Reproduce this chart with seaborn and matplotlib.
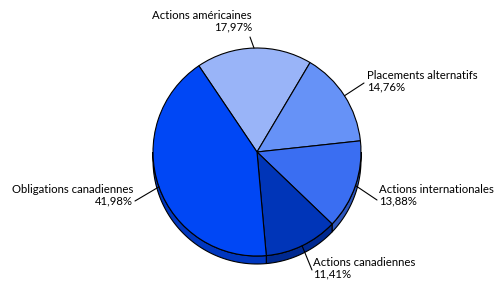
import numpy as np
import matplotlib
matplotlib.use('Agg')
import matplotlib.pyplot as plt
import seaborn as sns

# data
categories = ['Actions américaines', 'Placements alternatifs', 'Actions internationales',
              'Actions canadiennes', 'Obligations canadiennes']
shares = [17.97, 14.76, 13.88, 11.41, 41.98]
colors = ['#99b4f8', '#6692f7', '#3a6ef2', '#0035b8', '#0047f5']

# layout (pixels, origin top-left)
W, H = 494, 281
cx, cy, r, depth = 257, 129, 104, 8
label_pos = [(252, 21), (367, 81), (379, 195), (313, 268), (133, 195)]
label_ha = ['right', 'left', 'left', 'left', 'right']
leader_end = [(250, 37), (364, 83), (377, 200), (312, 270), (135, 201)]

sns.set_theme(style='white')
plt.rcParams['font.family'] = ['Lato', 'DejaVu Sans']

fig = plt.figure(figsize=(W / 100, H / 100), dpi=100)
ax = fig.add_axes([0, 0, 1, 1])

wedges, _ = ax.pie(shares, colors=colors, startangle=124, counterclock=False,
                   center=(cx, cy), radius=r,
                   wedgeprops=dict(edgecolor='black', linewidth=0.8, zorder=2))

# 3d rim on the lower half
def darker(c, f=0.78):
    rgb = np.array(matplotlib.colors.to_rgb(c))
    return tuple(rgb * f)

for w, c in zip(wedges, colors):
    for k in (-1, 0, 1):
        a = max(w.theta1, 180 + 360 * k)
        b = min(w.theta2, 360 + 360 * k)
        if b <= a:
            continue
        t = np.radians(np.linspace(a, b, 60))
        xs = cx + r * np.cos(t)
        ys = cy + r * np.sin(t)
        px = np.concatenate([xs, xs[::-1]])
        py = np.concatenate([ys, ys[::-1] - depth])
        ax.fill(px, py, facecolor=darker(c), edgecolor='black', linewidth=0.8, zorder=1)

# labels with leader lines
for w, name, v, pos, ha, end in zip(wedges, categories, shares, label_pos, label_ha, leader_end):
    mid = np.radians((w.theta1 + w.theta2) / 2)
    x0, y0 = cx + r * np.cos(mid), cy + r * np.sin(mid)
    ax.plot([x0, end[0]], [y0, H - end[1]], color='black', linewidth=0.8, zorder=3)
    txt = name + '\n' + f'{v:.2f}'.replace('.', ',') + '%'
    ax.text(pos[0], H - pos[1], txt, ha=ha, va='center', multialignment=ha,
            fontsize=8.2, color='#000000', linespacing=1.0)

ax.set_xlim(0, W)
ax.set_ylim(0, H)
ax.set_aspect('equal')
ax.axis('off')

fig.savefig('out.png', dpi=100)
